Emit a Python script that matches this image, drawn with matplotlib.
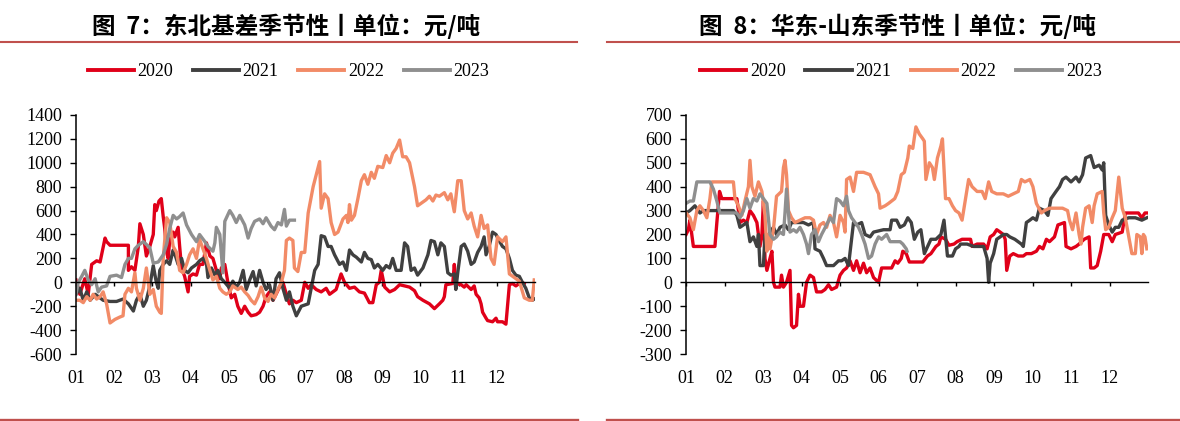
import matplotlib
matplotlib.use('Agg')
import matplotlib.pyplot as plt
from matplotlib.lines import Line2D

plt.rcParams['font.family'] = ['Liberation Serif', 'DejaVu Serif']
plt.rcParams['axes.unicode_minus'] = False

# 月份刻度
meses = ['01', '02', '03', '04', '05', '06', '07', '08', '09', '10', '11', '12']
anios = ['2020', '2021', '2022', '2023']
colores = ['#E00019', '#404040', '#F28B67', '#8F8F8F']

# ---- 图7 东北基差 (x = 月份位置, y = 元/吨)
ne_2020_x = [1.00, 1.10, 1.23, 1.32, 1.41, 1.54, 1.63, 1.76, 1.80, 1.89, 2.37, 2.37, 2.45, 2.54, 2.63, 2.67, 2.76, 2.84,
             2.93, 3.02, 3.06, 3.10, 3.17, 3.23, 3.28, 3.32, 3.37, 3.41, 3.45, 3.54, 3.58, 3.67, 3.71, 3.76, 3.84, 3.93,
             3.97, 4.06, 4.15, 4.23, 4.32, 4.41, 4.50, 4.58, 4.67, 4.76, 4.80, 4.89, 4.97, 5.06, 5.15, 5.23, 5.32, 5.41,
             5.50, 5.58, 5.71, 5.80, 5.89, 5.97, 6.06, 6.15, 6.23, 6.32, 6.41, 6.50, 6.58, 6.67, 6.76, 6.89, 6.98, 7.07,
             7.15, 7.28, 7.41, 7.54, 7.63, 7.80, 7.93, 8.02, 8.15, 8.28, 8.41, 8.54, 8.67, 8.76, 8.85, 8.93, 8.98, 9.07,
             9.20, 9.33, 9.46, 9.59, 9.72, 9.85, 9.93, 10.07, 10.24, 10.37, 10.50, 10.59, 10.63, 10.67, 10.85, 10.89,
             10.93, 11.07, 11.15, 11.20, 11.33, 11.41, 11.46, 11.54, 11.59, 11.63, 11.72, 11.76, 11.89, 11.98, 12.02,
             12.15, 12.24, 12.33, 12.41, 12.50, 12.63, 12.72]
ne_2020_y = [20, -100, 30, -100, 150, 180, 170, 370, 340, 310, 310, 100, 130, 100, 300, 490, 400, 220,
             300, 400, 650, 600, 680, 700, 550, 450, 250, 200, 350, 420, 380, 460, 300, 120, 50, -80,
             50, 70, 60, 150, 150, 330, 220, 200, 100, 30, 120, 150, 0, -130, -100, -200, -260, -200,
             -250, -280, -270, -250, -200, -120, -80, -150, -100, -40, 0, -100, -180, -150, -170, -150, 0, -50,
             -20, -60, -80, -50, -100, -60, 70, 0, -50, -40, -80, -90, -170, -170, -20, 0, 100, -40,
             -80, -60, -20, -30, -40, -70, -120, -150, -180, -220, -180, -150, -120, -20, -10, 150,
             -10, -20, -40, -20, -60, -30, -100, -130, -180, -250, -300, -320, -330, -300, -330,
             -330, -350, -20, -10, -30, 0, -10]

ne_2021_x = [1.00, 1.10, 1.19, 1.28, 1.37, 1.50, 1.63, 1.71, 1.89, 2.06, 2.23, 2.37, 2.50, 2.58, 2.67, 2.76, 2.84, 2.93,
             3.02, 3.10, 3.15, 3.19, 3.28, 3.37, 3.45, 3.54, 3.58, 3.67, 3.76, 3.84, 3.93, 4.02, 4.15, 4.23, 4.32, 4.41,
             4.45, 4.54, 4.63, 4.71, 4.80, 4.89, 5.02, 5.10, 5.19, 5.28, 5.37, 5.45, 5.54, 5.63, 5.71, 5.80, 5.89, 5.97,
             6.06, 6.15, 6.23, 6.32, 6.41, 6.50, 6.58, 6.67, 6.76, 6.89, 7.07, 7.15, 7.24, 7.33, 7.41, 7.50, 7.59, 7.67,
             7.76, 7.89, 7.98, 8.07, 8.15, 8.24, 8.33, 8.46, 8.54, 8.63, 8.72, 8.80, 8.89, 9.02, 9.11, 9.20, 9.28, 9.37,
             9.50, 9.59, 9.67, 9.76, 9.85, 9.93, 10.07, 10.20, 10.28, 10.37, 10.46, 10.54, 10.63, 10.72, 10.80, 10.89,
             10.93, 10.98, 11.07, 11.15, 11.24, 11.33, 11.41, 11.50, 11.59, 11.67, 11.72, 11.80, 11.89, 11.98, 12.06,
             12.15, 12.24, 12.33, 12.41, 12.50, 12.59, 12.67, 12.76, 12.85, 12.93, 12.98]
ne_2021_y = [-100, -50, -150, -80, -150, -100, -130, -150, -160, -160, -140, -180, -240, -150, -100, -200, -150, -30,
             140, 0, -50, 100, 150, 180, 150, 270, 240, 150, 200, 100, 80, 120, 150, 180, 200, 160,
             40, 120, 60, 100, 30, 0, -50, 10, -40, 0, 100, -60, 20, 90, -30, 100, 0, -60,
             -20, -150, 30, 80, -50, -150, -80, -200, -280, -200, -180, -50, 100, 150, 390, 380, 300, 300,
             230, 150, 170, 100, 270, 230, 210, 170, 250, 200, 190, 120, 150, 100, 140, 120, 200, 100,
             100, 330, 300, 100, 120, 60, 120, 230, 350, 340, 230, 330, 300, 80, 60, 70,
             -60, 80, 300, 320, 260, 150, 170, 250, 300, 380, 230, 300, 420, 400, 350,
             300, 280, 200, 100, 60, 50, 0, -50, -130, -150, -140]

ne_2022_x = [1.00, 1.10, 1.19, 1.28, 1.37, 1.45, 1.54, 1.63, 1.71, 1.80, 1.89, 2.02, 2.15, 2.23, 2.28, 2.37, 2.45, 2.54,
             2.58, 2.67, 2.76, 2.84, 2.93, 3.02, 3.10, 3.19, 3.23, 3.28, 3.37, 3.45, 3.54, 3.63, 3.71, 3.80, 3.89, 3.97,
             4.06, 4.15, 4.23, 4.32, 4.41, 4.50, 4.58, 4.67, 4.76, 4.84, 4.93, 5.02, 5.10, 5.23, 5.32, 5.41, 5.50, 5.58,
             5.67, 5.76, 5.84, 5.93, 6.02, 6.10, 6.19, 6.28, 6.37, 6.45, 6.50, 6.58, 6.67, 6.71, 6.80, 6.89, 6.98, 7.07,
             7.20, 7.28, 7.37, 7.41, 7.50, 7.59, 7.67, 7.76, 7.85, 7.98, 8.07, 8.11, 8.15, 8.20, 8.28, 8.37, 8.46, 8.54,
             8.63, 8.72, 8.80, 8.89, 9.02, 9.11, 9.20, 9.28, 9.37, 9.46, 9.54, 9.63, 9.72, 9.85, 9.93, 10.02, 10.15,
             10.24, 10.33, 10.41, 10.50, 10.63, 10.72, 10.80, 10.89, 10.98, 11.07, 11.15, 11.24, 11.33, 11.41, 11.50,
             11.59, 11.67, 11.76, 11.85, 11.93, 12.02, 12.15, 12.24, 12.33, 12.46, 12.59, 12.72, 12.85, 12.93, 12.98]
ne_2022_y = [-150, -150, -170, -120, -150, -100, -140, -120, -80, -180, -340, -310, -290, -280, -100, -50, -80, 80,
             -50, -150, -50, 120, -100, -60, -200, -250, -260, 200, 540, 500, 300, 250, 100, 80, 150, 230,
             280, 200, 360, 280, 200, 100, 20, 50, -50, -80, -100, -80, -30, -60, -40, -80, -110, -150,
             -180, -120, -40, -130, -160, -100, -130, -60, 0, 100, 350, 370, 350, 120, 90, 250, 250, 580,
             800, 900, 1010, 620, 740, 700, 500, 400, 420, 530, 560, 500, 650, 520, 560, 700, 850, 900,
             820, 920, 870, 970, 960, 1060, 1000, 1080, 1120, 1190, 1050, 1050, 1000, 800, 640, 660, 690,
             720, 680, 730, 720, 750, 690, 740, 590, 850, 850, 600, 530, 580, 470, 380,
             560, 450, 480, 200, 150, 380, 340, 380, 70, 40, 10, -130, -150, -150, 20]

ne_2023_x = [1.00, 1.06, 1.15, 1.23, 1.32, 1.41, 1.50, 1.58, 1.67, 1.80, 1.89, 2.06, 2.19, 2.28, 2.37, 2.45, 2.54, 2.63,
             2.76, 2.93, 3.02, 3.15, 3.28, 3.37, 3.45, 3.54, 3.63, 3.71, 3.80, 3.89, 4.02, 4.15, 4.23, 4.37, 4.45, 4.58,
             4.63, 4.67, 4.76, 4.84, 4.89, 5.02, 5.10, 5.19, 5.28, 5.41, 5.50, 5.58, 5.67, 5.80, 5.89, 5.97, 6.10, 6.19,
             6.28, 6.37, 6.45, 6.50, 6.58, 6.71]
ne_2023_y = [-100, 0, 50, 100, 20, -20, 30, -80, -40, -30, 50, 60, 40, 150, 200, 200, 280, 310,
             340, 290, 160, 170, 230, 320, 450, 560, 530, 550, 580, 480, 400, 340, 400, 340, 300, 260,
             330, 460, 400, 80, 510, 600, 560, 500, 560, 480, 370, 450, 510, 530, 490, 540, 470, 440,
             500, 480, 610, 470, 520, 520]

# ---- 图8 华东-山东
hd_2020_x = [1.00, 1.06, 1.10, 1.19, 1.75, 1.80, 1.87, 1.93, 2.23, 2.32, 2.40, 2.49, 2.58, 2.66, 2.75, 2.84, 2.92, 2.97,
             3.01, 3.05, 3.10, 3.18, 3.23, 3.27, 3.31, 3.44, 3.48, 3.53, 3.61, 3.70, 3.74, 3.79, 3.87, 3.92, 3.96, 4.05,
             4.13, 4.22, 4.31, 4.39, 4.52, 4.61, 4.70, 4.78, 4.91, 5.00, 5.09, 5.17, 5.26, 5.35, 5.43, 5.52, 5.61, 5.69,
             5.78, 5.87, 6.00, 6.08, 6.21, 6.34, 6.43, 6.50, 6.59, 6.63, 6.72, 6.80, 7.15, 7.27, 7.36, 7.49, 7.57, 7.62,
             7.74, 7.83, 7.96, 8.04, 8.17, 8.39, 8.43, 8.56, 8.73, 8.82, 8.90, 8.99, 9.07, 9.16, 9.24, 9.29, 9.33, 9.41,
             9.50, 9.63, 9.76, 9.84, 9.97, 10.10, 10.18, 10.27, 10.36, 10.44, 10.57, 10.66, 10.83, 10.87, 11.00, 11.13,
             11.21, 11.34, 11.47, 11.51, 11.60, 11.68, 11.77, 11.85, 11.98, 12.07, 12.15, 12.33, 12.41, 12.58, 12.75,
             12.84, 12.92, 12.97]
hd_2020_y = [200, 220, 260, 150, 150, 250, 380, 350, 350, 350, 250, 260, 250, 300, 280, 250, 150, 200,
             340, 100, 50, 100, 130, 0, -20, -20, 30, -20, 0, 50, -180, -190, -180, -50, -100, -100,
             0, 30, 20, -40, -40, -30, -10, -30, -20, 30, 50, 60, 90, 50, 90, 40, 80, 40,
             60, 20, 0, 60, 60, 60, 90, 80, 100, 130, 120, 85, 85, 110, 120, 150, 160, 190,
             180, 155, 160, 170, 180, 180, 150, 160, 160, 140, 190, 200, 220, 210, 200, 180, 50, 110,
             120, 110, 110, 120, 120, 130, 150, 140, 180, 170, 190, 240, 250, 150, 140, 150,
             160, 180, 190, 60, 60, 70, 130, 200, 200, 170, 200, 210, 290, 290, 290,
             270, 290, 290]

hd_2021_x = [1.00, 1.10, 1.23, 1.36, 1.45, 1.75, 2.23, 2.32, 2.40, 2.49, 2.58, 2.66, 2.75, 2.84, 2.88, 2.92, 3.01, 3.05,
             3.10, 3.18, 3.27, 3.35, 3.44, 3.57, 3.66, 3.74, 3.87, 4.05, 4.18, 4.31, 4.35, 4.48, 4.57, 4.65, 4.83, 4.96,
             5.04, 5.13, 5.22, 5.35, 5.43, 5.56, 5.65, 5.78, 5.87, 6.13, 6.30, 6.34, 6.47, 6.56, 6.67, 6.76, 6.85, 6.93,
             7.02, 7.10, 7.19, 7.36, 7.49, 7.62, 7.70, 7.79, 7.92, 8.00, 8.09, 8.13, 8.30, 8.47, 8.73, 8.82, 8.86, 8.90,
             8.99, 9.07, 9.16, 9.24, 9.33, 9.41, 9.54, 9.71, 9.76, 9.84, 9.93, 10.01, 10.10, 10.18, 10.31, 10.40, 10.48,
             10.61, 10.70, 10.78, 10.87, 11.00, 11.13, 11.21, 11.30, 11.38, 11.51, 11.60, 11.73, 11.81, 11.85, 11.90,
             11.98, 12.07, 12.15, 12.24, 12.33, 12.50, 12.67, 12.84, 12.97]
hd_2021_y = [290, 300, 320, 290, 300, 300, 300, 280, 230, 240, 250, 170, 190, 150, 200, 70, 70, 200,
             180, 210, 230, 200, 230, 240, 220, 250, 250, 250, 240, 250, 140, 130, 100, 70, 70, 90,
             90, 100, 70, 250, 240, 250, 200, 190, 210, 220, 220, 260, 260, 230, 240, 270, 250, 180,
             210, 220, 120, 180, 180, 200, 260, 110, 110, 140, 150, 160, 160, 150, 150, 100, 0, 80,
             120, 180, 190, 200, 200, 190, 180, 160, 150, 250, 260, 270, 260, 310, 300, 280, 350,
             380, 400, 430, 440, 420, 440, 420, 450, 520, 530, 480, 490, 470, 500, 280,
             240, 210, 230, 230, 260, 270, 270, 260, 270]

hd_2022_x = [1.00, 1.10, 1.19, 1.28, 1.36, 1.45, 1.54, 1.62, 1.67, 2.23, 2.27, 2.36, 2.45, 2.53, 2.62, 2.66, 2.71, 2.79,
             2.88, 2.97, 3.05, 3.10, 3.14, 3.18, 3.27, 3.35, 3.48, 3.53, 3.57, 3.61, 3.66, 3.74, 3.83, 3.96, 4.09, 4.22,
             4.31, 4.39, 4.48, 4.57, 4.65, 4.74, 4.83, 4.91, 5.00, 5.09, 5.13, 5.17, 5.26, 5.35, 5.43, 5.61, 5.78, 5.91,
             6.00, 6.04, 6.17, 6.26, 6.34, 6.42, 6.50, 6.59, 6.67, 6.76, 6.80, 6.89, 6.97, 7.06, 7.15, 7.19, 7.23, 7.32,
             7.40, 7.45, 7.53, 7.62, 7.66, 7.74, 7.83, 7.92, 8.00, 8.09, 8.17, 8.26, 8.34, 8.43, 8.56, 8.69, 8.77, 8.86,
             8.94, 9.07, 9.24, 9.37, 9.50, 9.63, 9.71, 9.80, 9.93, 10.01, 10.10, 10.23, 10.31, 10.44, 10.61, 10.78,
             10.91, 10.96, 11.04, 11.13, 11.21, 11.26, 11.30, 11.38, 11.47, 11.55, 11.60, 11.68, 11.81, 11.85, 11.90,
             11.98, 12.07, 12.15, 12.24, 12.33, 12.41, 12.50, 12.58, 12.67, 12.71, 12.80, 12.84, 12.88, 12.92, 12.97]
hd_2022_y = [290, 270, 220, 300, 320, 300, 270, 350, 420, 420, 350, 320, 280, 340, 400, 510, 400, 360,
             420, 380, 280, 130, 200, 140, 220, 360, 380, 480, 510, 450, 300, 270, 250, 260, 270, 270,
             260, 200, 240, 250, 230, 280, 250, 190, 280, 250, 210, 430, 440, 380, 460, 460, 450, 400,
             370, 310, 320, 330, 340, 350, 380, 450, 460, 520, 570, 560, 650, 620, 600, 590, 430, 500,
             480, 430, 520, 570, 600, 350, 350, 320, 300, 290, 260, 350, 430, 400, 380, 380, 350, 420,
             380, 370, 370, 360, 370, 380, 430, 420, 430, 400, 330, 290, 300, 310, 310, 310,
             300, 260, 220, 290, 200, 160, 230, 310, 320, 250, 320, 370, 380, 290, 220,
             230, 270, 300, 440, 310, 270, 190, 120, 120, 200, 190, 120, 200, 190, 140]

hd_2023_x = [1.00, 1.10, 1.19, 1.28, 1.62, 1.71, 1.80, 1.88, 2.23, 2.32, 2.40, 2.49, 2.58, 2.66, 2.75, 2.84, 2.92, 3.01,
             3.10, 3.18, 3.27, 3.35, 3.44, 3.53, 3.57, 3.61, 3.70, 3.79, 3.87, 3.96, 4.05, 4.13, 4.18, 4.26, 4.35, 4.44,
             4.52, 4.65, 4.74, 4.83, 4.91, 5.00, 5.09, 5.17, 5.22, 5.30, 5.39, 5.48, 5.56, 5.65, 5.74, 5.82, 5.91, 6.00,
             6.08, 6.21, 6.30, 6.43, 6.56, 6.63, 6.72, 6.74]
hd_2023_y = [330, 340, 340, 420, 420, 390, 340, 290, 290, 290, 270, 300, 350, 310, 350, 340, 370, 350,
             330, 200, 180, 190, 210, 200, 290, 390, 210, 220, 210, 230, 200, 160, 120, 200, 220, 170,
             200, 240, 270, 250, 350, 340, 320, 360, 300, 270, 250, 230, 200, 160, 100, 110, 160, 190,
             180, 200, 170, 170, 170, 160, 140, 130]

paneles = [
    dict(titulo='图  7：东北基差季节性丨单位：元/吨', rect=[0.0644, 0.159, 0.389, 0.568],
         ylim=(-600, 1400), paso=200, xc=0.2445, tx=0.2425,
         series=[(ne_2020_x, ne_2020_y), (ne_2021_x, ne_2021_y), (ne_2022_x, ne_2022_y), (ne_2023_x, ne_2023_y)],
         linea=(0.0, 0.489)),
    dict(titulo='图  8：华东-山东季节性丨单位：元/吨', rect=[0.5814, 0.159, 0.3915, 0.568],
         ylim=(-300, 700), paso=100, xc=0.7636, tx=0.761,
         series=[(hd_2020_x, hd_2020_y), (hd_2021_x, hd_2021_y), (hd_2022_x, hd_2022_y), (hd_2023_x, hd_2023_y)],
         linea=(0.514, 1.0)),
]

fig = plt.figure(figsize=(11.8, 4.21), dpi=100)
rojo_linea = '#C0504D'

for p in paneles:
    ax = fig.add_axes(p['rect'])
    for (xs, ys), c, a in zip(p['series'], colores, anios):
        ax.plot(xs, ys, color=c, lw=2.4, label=a, solid_joinstyle='round')
    ax.set_xlim(1, 13)
    ax.set_ylim(*p['ylim'])
    ax.set_yticks(range(p['ylim'][0], p['ylim'][1] + 1, p['paso']))
    ax.set_xticks(range(1, 13))
    ax.set_xticklabels(meses)
    for s in ['top', 'right']:
        ax.spines[s].set_visible(False)
    ax.spines['bottom'].set_position(('data', 0))
    ax.spines['bottom'].set_color('black')
    ax.spines['bottom'].set_linewidth(1.0)
    ax.spines['left'].set_linewidth(1.1)
    ax.tick_params(axis='y', direction='out', length=4, width=1, pad=6, labelsize=13)
    ax.tick_params(axis='x', direction='out', length=3, width=1, pad=60, labelsize=13)

    fig.text(p['tx'], 1 - 26 / 421, p['titulo'], ha='center', va='center', fontsize=17, fontweight='bold',
             family=['Noto Sans CJK SC', 'DejaVu Sans'])
    handles = [Line2D([], [], color=c, lw=2.8) for c in colores]
    fig.legend(handles, anios, loc='center', bbox_to_anchor=(p['xc'], 1 - 72 / 421), ncol=4, frameon=False,
               fontsize=13, handlelength=2.55, handletextpad=0.2, columnspacing=1.1, borderpad=0)
    x0, x1 = p['linea']
    fig.add_artist(Line2D([x0, x1], [1 - 41.5 / 421, 1 - 41.5 / 421], color=rojo_linea, lw=1.5,
                          transform=fig.transFigure))
    fig.add_artist(Line2D([x0, x1], [1 - 419.5 / 421, 1 - 419.5 / 421], color=rojo_linea, lw=2.4,
                          transform=fig.transFigure))

fig.savefig('out.png', dpi=100)
